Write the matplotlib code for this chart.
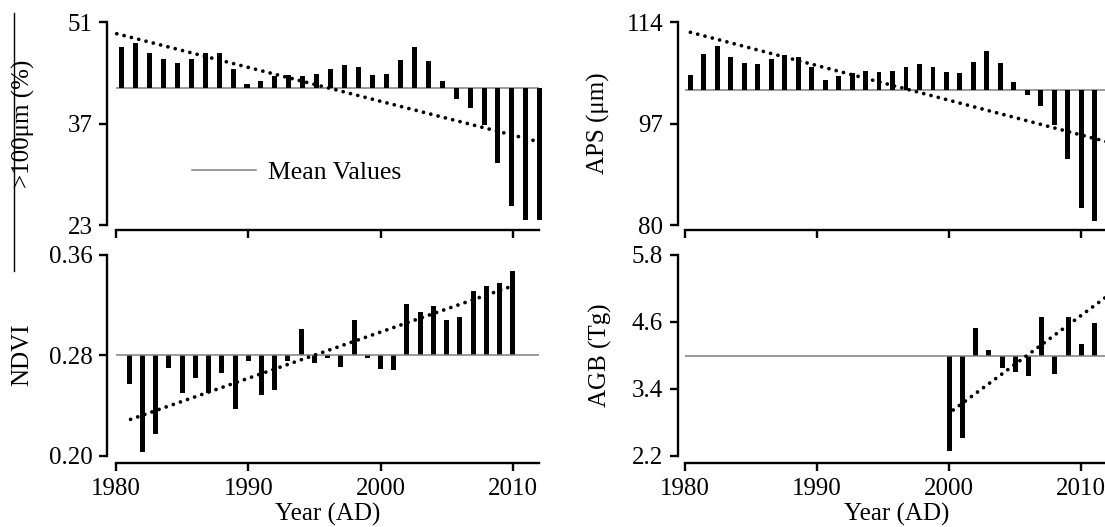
import numpy as np
import matplotlib.pyplot as plt
from matplotlib.lines import Line2D

plt.rcParams['font.family'] = ['Liberation Serif', 'DejaVu Serif']

# ---- data ----
# top row: 31 annual values, 1981-2011
top_years = np.arange(1981, 2012)
coarse_pct = [47.5, 48.1, 46.7, 45.9, 45.3, 45.9, 46.7, 46.7, 44.6, 42.5,
              42.9, 43.6, 43.7, 43.6, 43.8, 44.6, 45.1, 44.8, 43.7, 43.8,
              45.8, 47.5, 45.6, 42.9, 40.4, 39.1, 36.8, 31.5, 25.6, 23.7, 23.7]
coarse_mean = 41.9
coarse_trend = [49.4, 34.45]          # at 1980.66 and 2011

aps = [105.2, 108.7, 110.0, 108.2, 107.1, 107.0, 107.8, 108.5, 108.2, 106.4,
       104.3, 105.0, 105.4, 105.8, 105.7, 105.8, 106.45, 107.0, 106.55, 105.7,
       105.4, 107.4, 109.2, 107.2, 103.9, 101.8, 100.0, 96.8, 91.0, 82.9, 80.6]
aps_mean = 102.6
aps_trend = [112.3, 93.9]             # at 1981 and 2012

# bottom row
ndvi_years = np.arange(1981, 2011)
ndvi = [0.257, 0.203, 0.217, 0.270, 0.250, 0.262, 0.250, 0.266, 0.237, 0.275,
        0.248, 0.252, 0.275, 0.301, 0.274, 0.278, 0.271, 0.308, 0.278, 0.269,
        0.268, 0.321, 0.314, 0.319, 0.308, 0.310, 0.331, 0.335, 0.337, 0.347]
ndvi_mean = 0.28
ndvi_trend_x = [1981.1, 2009.7]
ndvi_trend = [0.229, 0.334]

agb_years = np.arange(2000, 2013)
agb = [2.28, 2.52, 4.48, 4.09, 3.77, 3.70, 3.63, 4.69, 3.67, 4.69, 4.20, 4.58, 5.63]
agb_mean = 3.98
agb_trend_x = [2000.3, 2012.5]
agb_trend = [3.02, 5.15]

year_ticks = [1980, 1990, 2000, 2010]

# ---- figure ----
fig = plt.figure(figsize=(11.05, 5.27), dpi=100)
ax_tl = fig.add_axes([0.105, 0.573, 0.383, 0.385])
ax_bl = fig.add_axes([0.105, 0.135, 0.383, 0.382])
ax_tr = fig.add_axes([0.620, 0.573, 0.3825, 0.385])
ax_br = fig.add_axes([0.620, 0.135, 0.3825, 0.382])

GRAY = '#808080'
FS = 18
dots = dict(color='black', lw=2.7, linestyle=(0, (0.01, 2.0)),
            dash_capstyle='round')


def style(ax, ylim, yticks, left_out, bottom_out, xlabels, ylabel, lab_x):
    ax.set_xlim(1980, 2012)
    ax.set_ylim(*ylim)
    ax.set_yticks(yticks)
    ax.set_xticks(year_ticks)
    ax.spines[['top', 'right']].set_visible(False)
    ax.spines['left'].set_position(('outward', left_out))
    ax.spines['bottom'].set_position(('outward', bottom_out))
    ax.spines[['left', 'bottom']].set_linewidth(1.7)
    ax.tick_params(length=6, width=1.7, labelsize=FS, pad=4.5)
    if xlabels:
        ax.set_xlabel('Year (AD)', fontsize=FS, labelpad=2)
    else:
        ax.tick_params(axis='x', labelbottom=False)
    ax.set_ylabel(ylabel, fontsize=FS)
    ax.yaxis.set_label_coords(lab_x, 0.5)


# top-left: >100um (%)
style(ax_tl, (23, 51), [23, 37, 51], 6.5, 3.6, False, '>100μm (%)', -0.192)
ax_tl.axhline(coarse_mean, color=GRAY, lw=1.1, label='Mean Values')
bx = ax_tl.twiny()
bx.set_xlim(1980.606, 2010.96)
bx.axis('off')
bx.bar(top_years, np.array(coarse_pct) - coarse_mean, bottom=coarse_mean,
       width=0.36, color='black', clip_on=False)
bx.plot([1980.66, 2011], coarse_trend, clip_on=False, **dots)
ax_tl.legend(loc='center left', bbox_to_anchor=(0.180, 0.2565), frameon=False,
             fontsize=18.5, handlelength=2.5, handletextpad=0.45,
             borderpad=0, borderaxespad=0)

# top-right: APS
style(ax_tr, (80, 114), [80, 97, 114], 5.3, 3.6, False, 'APS (μm)', -0.177)
ax_tr.axhline(aps_mean, color=GRAY, lw=1.1)
bx2 = ax_tr.twiny()
bx2.set_xlim(1980.607, 2011.97)
bx2.axis('off')
bx2.bar(top_years, np.array(aps) - aps_mean, bottom=aps_mean,
        width=0.36, color='black')
bx2.plot([1981, 2012], aps_trend, clip_on=False, **dots)

# bottom-left: NDVI
style(ax_bl, (0.20, 0.36), [0.20, 0.28, 0.36], 6.5, 5.4, True, 'NDVI', -0.195)
ax_bl.yaxis.set_major_formatter('{x:.2f}')
ax_bl.axhline(ndvi_mean, color=GRAY, lw=1.1)
ax_bl.bar(ndvi_years, np.array(ndvi) - ndvi_mean, bottom=ndvi_mean,
          width=0.38, color='black')
ax_bl.plot(ndvi_trend_x, ndvi_trend, **dots)

# bottom-right: AGB
style(ax_br, (2.2, 5.8), [2.2, 3.4, 4.6, 5.8], 5.3, 5.4, True, 'AGB (Tg)', -0.172)
ax_br.axhline(agb_mean, color=GRAY, lw=1.1)
ax_br.bar(agb_years, np.array(agb) - agb_mean, bottom=agb_mean,
          width=0.38, color='black', clip_on=False)
ax_br.plot(agb_trend_x, agb_trend, clip_on=False, **dots)

# stray rule at the left edge of the source figure
fig.add_artist(Line2D([14 / 1105, 14 / 1105], [1 - 13 / 527, 1 - 271 / 527],
                      color='black', lw=1))

fig.savefig('out.png', dpi=100)
